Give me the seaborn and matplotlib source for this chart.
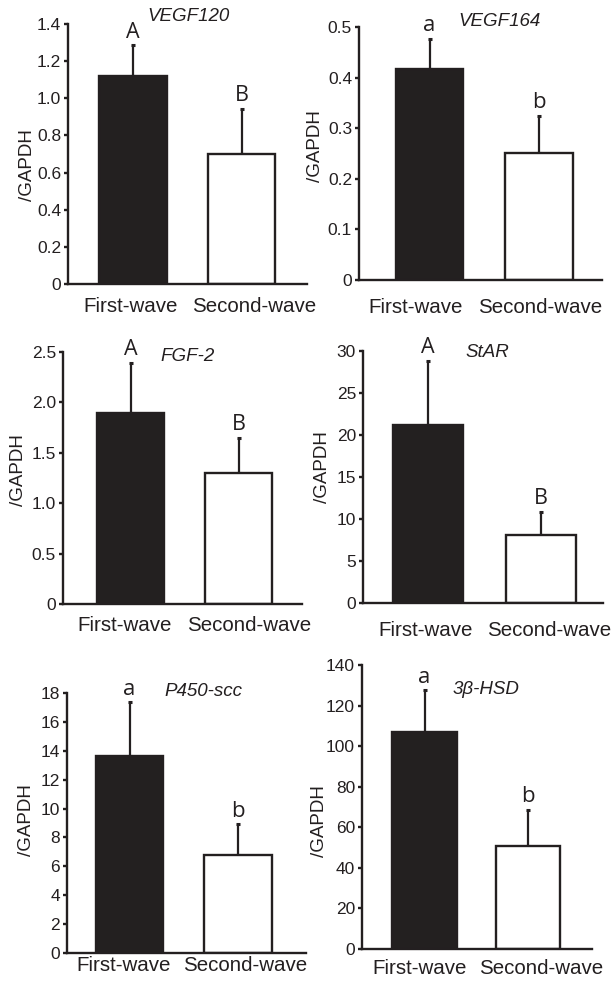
import numpy as np
import seaborn as sns
import matplotlib.pyplot as plt

# data
groups = ["First-wave", "Second-wave"]
genes = ["VEGF120", "VEGF164", "FGF-2", "StAR", "P450-scc", "3β-HSD"]

vegf120_mean = [1.12, 0.70]
vegf120_sd = [0.165, 0.245]
vegf164_mean = [0.417, 0.25]
vegf164_sd = [0.06, 0.075]
fgf2_mean = [1.89, 1.295]
fgf2_sd = [0.505, 0.35]
star_mean = [21.2, 8.05]
star_sd = [7.6, 2.8]
p450_mean = [13.65, 6.8]
p450_sd = [3.7, 2.1]
hsd_mean = [107.0, 51.0]
hsd_sd = [20.5, 17.5]

means = [vegf120_mean, vegf164_mean, fgf2_mean, star_mean, p450_mean, hsd_mean]
sds = [vegf120_sd, vegf164_sd, fgf2_sd, star_sd, p450_sd, hsd_sd]
letters = [["A", "B"], ["a", "b"], ["A", "B"], ["A", "B"], ["a", "b"], ["a", "b"]]
ymax = [1.4, 0.5, 2.5, 30, 18, 140]
ystep = [0.2, 0.1, 0.5, 5, 2, 20]

# panel layout in pixels: y-axis x, zero y, top y, bar centres, right end of x-axis
layout = [
    (68, 284, 24, 133, 241.5, 307),
    (359, 280, 27, 429.5, 539, 602),
    (63, 604, 352, 130.5, 238.5, 302),
    (363, 603, 351, 428, 541, 603),
    (67, 953, 693, 129.5, 238, 306),
    (362, 949, 665, 424.5, 528, 592),
]
# x tick label centres (px) and gap below the axis (px)
xlab_px = [(130.5, 254), (415.5, 540), (125, 249), (426, 549), (123.5, 245), (419.5, 541.5)]
xlab_gap = [17, 22, 16, 22, 7, 14]
gene_pos = [(0.504, 1.027), (0.58, 1.02), (0.52, 0.984), (0.52, 0.996), (0.57, 1.006), (0.537, 0.912)]
ylab_pos = [(-0.135, 0.458), (-0.145, 0.53), (-0.152, 0.53), (-0.135, 0.54), (-0.135, 0.51), (-0.148, 0.45)]

sns.set_style("ticks")
plt.rcParams['font.family'] = ['Liberation Sans', 'DejaVu Sans']

W, H = 615, 983
fig = plt.figure(figsize=(W / 100, H / 100), dpi=100)
dark = "#231f20"

for i in range(6):
    axx, y0, ytop, c1, c2, xr = layout[i]
    ax = fig.add_axes([axx / W, 1 - y0 / H, (xr - axx) / W, (y0 - ytop) / H])
    sns.barplot(x=groups, y=means[i], hue=groups, palette=[dark, "white"],
                edgecolor=dark, linewidth=1.7, width=0.62, legend=False, ax=ax, zorder=2)
    ax.errorbar([0, 1], means[i], yerr=[[0, 0], sds[i]], fmt="none", ecolor=dark,
                elinewidth=1.6, capsize=1.5, capthick=2.2, zorder=1)

    s = c2 - c1
    ax.set_xlim((axx - c1) / s, 1 + (xr - c2) / s)
    ax.set_ylim(0, ymax[i])
    ticks = np.arange(0, ymax[i] + ystep[i] / 2, ystep[i])
    dec = 1 if ystep[i] < 1 else 0
    ax.set_yticks(ticks)
    ax.set_yticklabels(["0" if t == 0 else f"{t:.{dec}f}" for t in ticks])

    # tick labels sit a little off the bar centres in the original
    ax.set_xticks([(p - c1) / s for p in xlab_px[i]])
    ax.set_xticklabels(groups)

    sns.despine(ax=ax)
    for sp in ["left", "bottom"]:
        ax.spines[sp].set_linewidth(1.7)
        ax.spines[sp].set_color(dark)
    ax.tick_params(axis="y", length=3, width=1.7, pad=2, labelsize=12.5, colors=dark)
    ax.tick_params(axis="x", length=0, pad=max(xlab_gap[i] - 4, 1) * 0.72,
                   labelsize=14.8, colors=dark)

    ax.set_ylabel("/GAPDH", fontsize=13.5, color=dark)
    ax.yaxis.set_label_coords(*ylab_pos[i])
    ax.set_xlabel("")

    ax.text(gene_pos[i][0], gene_pos[i][1], genes[i], transform=ax.transAxes,
            ha="center", va="center", fontsize=13.5, style="italic", color=dark)

    for j in range(2):
        lab = letters[i][j]
        ax.annotate(lab, (j, means[i][j] + sds[i][j]), xytext=(0, 2),
                    textcoords="offset points", ha="center", va="bottom",
                    fontsize=15.5 if lab.isupper() else 16, family="Open Sans", color=dark)

fig.savefig("out.png", dpi=100)
